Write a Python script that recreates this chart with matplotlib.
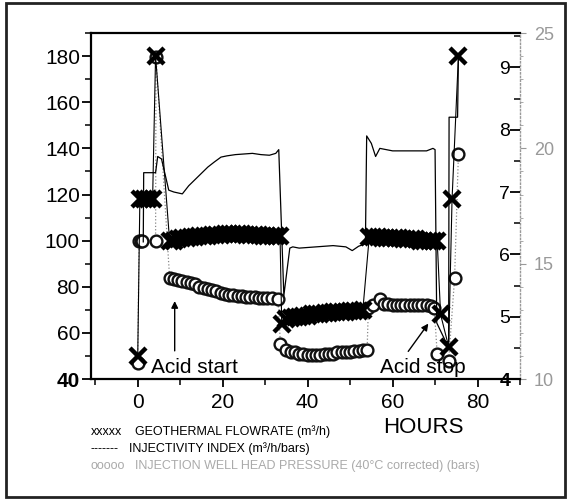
import numpy as np
import matplotlib
matplotlib.use("Agg")
from matplotlib import pyplot as plt
from matplotlib.patches import Rectangle
from matplotlib.ticker import MultipleLocator

plt.rcParams['font.family'] = ['Liberation Sans', 'DejaVu Sans']

# geothermal flowrate (m3/h)
flow_hours = [0, 0.5, 1.5, 2.5, 3.5, 4.2,
              7.5, 8.5, 9.5, 10.5, 11.5, 12.5, 13.5, 14.5, 15.5, 16.5, 17.5, 18.5, 19.5,
              20.5, 21.5, 22.5, 23.5, 24.5, 25.5, 26.5, 27.5, 28.5, 29.5, 30.5, 31.5, 32.5, 33.5,
              33.9,
              35, 36, 37, 38, 39, 40, 41, 42, 43, 44, 45, 46, 47, 48, 49, 50, 51, 52, 53,
              54.5, 55.5, 56.5, 57.5, 58.5, 59.5, 60.5, 61.5, 62.5, 63.5, 64.5, 65.5, 66.5,
              67.5, 68.5, 69.5, 70.5,
              71.3, 73.2, 74.0, 75.5]
flow = [50, 118, 118, 118, 118, 180,
        100, 100, 100.5, 101, 101, 101.5, 101.5, 102, 102, 102, 102.5, 102.5, 102.5,
        103, 103, 103, 103, 103, 102.5, 102.5, 102.5, 102.5, 102, 102, 102, 102, 102,
        64,
        66, 66.5, 67, 67, 67.5, 67.5, 68, 68, 68, 68.5, 68.5, 69, 69, 69, 69, 69.5, 69.5, 69.5, 70,
        101.5, 101.5, 101.5, 101, 101, 101, 101, 101, 100.5, 100.5, 100.5, 100.5, 100,
        100, 100, 100, 100,
        68, 54, 118, 180]

# injectivity index (m3/h/bars)
inj_hours = [1.3, 1.4, 4.2, 4.7, 5.6, 7.3, 8.5, 10.5, 12, 13.5, 15, 16.5, 18, 19.6, 21, 23,
             25, 27, 29, 31, 32.5, 33.2, 34.4, 35.8, 36.5, 38, 42, 46, 49, 50.5, 52, 53.6,
             53.9, 55, 56, 57, 60, 64, 68, 69.5, 70.0, 70.4, 72.5, 73.2, 73.3, 75.3, 75.5]
injectivity = [6.2, 7.31, 7.31, 7.57, 7.53, 7.03, 7.0, 6.97, 7.1, 7.2, 7.3, 7.4, 7.48, 7.56, 7.58,
               7.6, 7.61, 7.62, 7.6, 7.59, 7.62, 7.68, 5.34, 6.1, 6.12, 6.1, 6.12, 6.14, 6.12,
               6.06, 6.13, 6.17, 7.9, 7.78, 7.57, 7.7, 7.66, 7.66, 7.66, 7.7, 7.68, 4.9, 4.6,
               4.6, 8.2, 8.2, 9.16]

# injection well head pressure, 40 C corrected (bars)
pres_hours = [0, 0.3, 0.7, 1.1, 4.2, 4.3,
              7.5, 8.5, 9.5, 10.5, 11.5, 12.5, 13.5, 14.5, 15.5, 16.5, 17.5, 18.5, 19.5,
              20.5, 21.5, 22.5, 23.5, 24.5, 25.5, 26.5, 27.5, 28.5, 29.5, 30.5, 31.5, 33,
              33.6,
              35, 36, 37, 38, 39, 40, 41, 42, 43, 44, 45, 46, 47, 48, 49, 50, 51, 52, 53, 54,
              54.3, 55.5, 57, 58, 59, 60, 61, 62, 63, 64, 65, 66, 67, 68, 69, 69.8,
              70.5, 73.2, 74.6, 75.5]
pressure = [10.7, 15.98, 15.98, 15.98, 15.98, 23.96,
            14.39, 14.35, 14.3, 14.25, 14.2, 14.15, 14.1, 14.0, 13.95, 13.9, 13.85, 13.8, 13.75,
            13.7, 13.65, 13.65, 13.6, 13.6, 13.55, 13.55, 13.55, 13.5, 13.5, 13.5, 13.5, 13.49,
            11.5,
            11.25, 11.15, 11.15, 11.1, 11.1, 11.05, 11.05, 11.05, 11.05, 11.1, 11.1, 11.1, 11.15,
            11.15, 11.15, 11.15, 11.2, 11.2, 11.25, 11.25,
            13.09, 13.2, 13.49, 13.25, 13.25, 13.2, 13.2, 13.2, 13.2, 13.2, 13.2, 13.2, 13.2,
            13.2, 13.15, 13.09,
            11.1, 10.8, 14.39, 19.77]

x_ticks = [0, 20, 40, 60, 80]
flow_ticks = [40, 60, 80, 100, 120, 140, 160, 180]
inj_ticks = [4, 5, 6, 7, 8, 9]
pres_ticks = [10, 15, 20, 25]

fig = plt.figure(figsize=(5.71, 5.01), dpi=100)
ax = fig.add_axes([0.1594, 0.2435, 0.7513, 0.6905])
ax2 = ax.twinx()
ax3 = ax.twinx()

# pressure: gray dotted line with open circles
ax3.plot(pres_hours, pressure, linestyle=':', color='#888888', lw=0.9,
         marker='o', ms=8.5, mfc='white', mec='#111111', mew=1.7, zorder=2)
# injectivity: thin solid line
ax2.plot(inj_hours, injectivity, '-', color='black', lw=0.9, zorder=3)
# flowrate: X markers
ax.plot(flow_hours, flow, '-', color='black', lw=0.8,
        marker='x', ms=11, mew=3.2, zorder=4)

ax.set_zorder(3)
ax2.set_zorder(2)
ax3.set_zorder(1)
ax.patch.set_visible(False)
ax2.patch.set_visible(False)

ax.set_xlim(-11, 90)
ax.set_ylim(40, 190)
ax2.set_ylim(4, 9.55)
ax3.set_ylim(10, 25)

ax.set_xticks(x_ticks)
ax.xaxis.set_minor_locator(MultipleLocator(10))
ax.set_yticks(flow_ticks)
ax.yaxis.set_minor_locator(MultipleLocator(10))
ax.tick_params(axis='x', which='major', direction='out', length=6, width=1.3,
               labelsize=15, pad=4)
ax.tick_params(axis='x', which='minor', direction='out', length=4, width=1.1)
ax.tick_params(axis='y', which='major', direction='out', length=6.5, width=1.3,
               labelsize=15, pad=1.5)
ax.tick_params(axis='y', which='minor', direction='out', length=4, width=1.1)
ax.get_yticklabels()[0].set_fontweight('bold')

for side in ['left', 'bottom', 'top']:
    ax.spines[side].set_linewidth(1.6)
ax.spines['right'].set_visible(False)

ax2.set_yticks(inj_ticks)
ax2.yaxis.set_minor_locator(MultipleLocator(0.5))
ax2.tick_params(axis='y', which='major', direction='in', length=7, width=1.3,
                labelsize=14, pad=-7)
ax2.tick_params(axis='y', which='minor', direction='in', length=4, width=1.1)
for t in ax2.yaxis.get_major_ticks():
    t.label2.set_horizontalalignment('right')
ax2.yaxis.get_major_ticks()[0].label2.set_fontweight('bold')
for side in ax2.spines:
    ax2.spines[side].set_visible(False)

ax3.set_yticks(pres_ticks)
ax3.yaxis.set_minor_locator(MultipleLocator(1))
ax3.tick_params(axis='y', which='major', direction='out', length=4, width=0.8,
                color='#999999', labelcolor='#999999', labelsize=13, pad=6)
ax3.tick_params(axis='y', which='minor', direction='out', length=2, width=0.7,
                color='#aaaaaa')
for side in ['left', 'bottom', 'top']:
    ax3.spines[side].set_visible(False)
ax3.spines['right'].set_linestyle(':')
ax3.spines['right'].set_color('#999999')
ax3.spines['right'].set_linewidth(1.0)

# annotations
ax.text(3.2, 40.8, "Acid start", fontsize=15, ha='left', va='bottom', zorder=6)
ax.annotate("", xy=(8.7, 75), xytext=(8.7, 51),
            arrowprops=dict(arrowstyle='-|>', color='black', lw=1.0,
                            mutation_scale=10))
ax.text(57.0, 40.8, "Acid stop", fontsize=15, ha='left', va='bottom', zorder=6)
ax.annotate("", xy=(68.8, 65), xytext=(63.3, 51),
            arrowprops=dict(arrowstyle='-|>', color='black', lw=1.0,
                            mutation_scale=10))

fig.text(0.741, 0.146, "HOURS", fontsize=16, ha='center', va='center')

# legend written as text lines under the axes
fig.text(0.159, 0.138, "xxxxx", fontsize=9, va='center')
fig.text(0.236, 0.138, "GEOTHERMAL FLOWRATE (m³/h)", fontsize=9, va='center')
fig.text(0.159, 0.104, "-------", fontsize=9, va='center')
fig.text(0.226, 0.104, "INJECTIVITY INDEX (m³/h/bars)", fontsize=9, va='center')
fig.text(0.159, 0.070, "ooooo", fontsize=9, va='center', color='#aaaaaa')
fig.text(0.236, 0.070, "INJECTION WELL HEAD PRESSURE (40°C corrected) (bars)",
         fontsize=9, va='center', color='#aaaaaa')

# outer frame of the scanned figure
fig.patches.append(Rectangle((0.0105, 0.008), 0.9785, 0.986, transform=fig.transFigure,
                             fill=False, edgecolor='#222222', lw=2.0))

fig.savefig("out.png", dpi=100)
